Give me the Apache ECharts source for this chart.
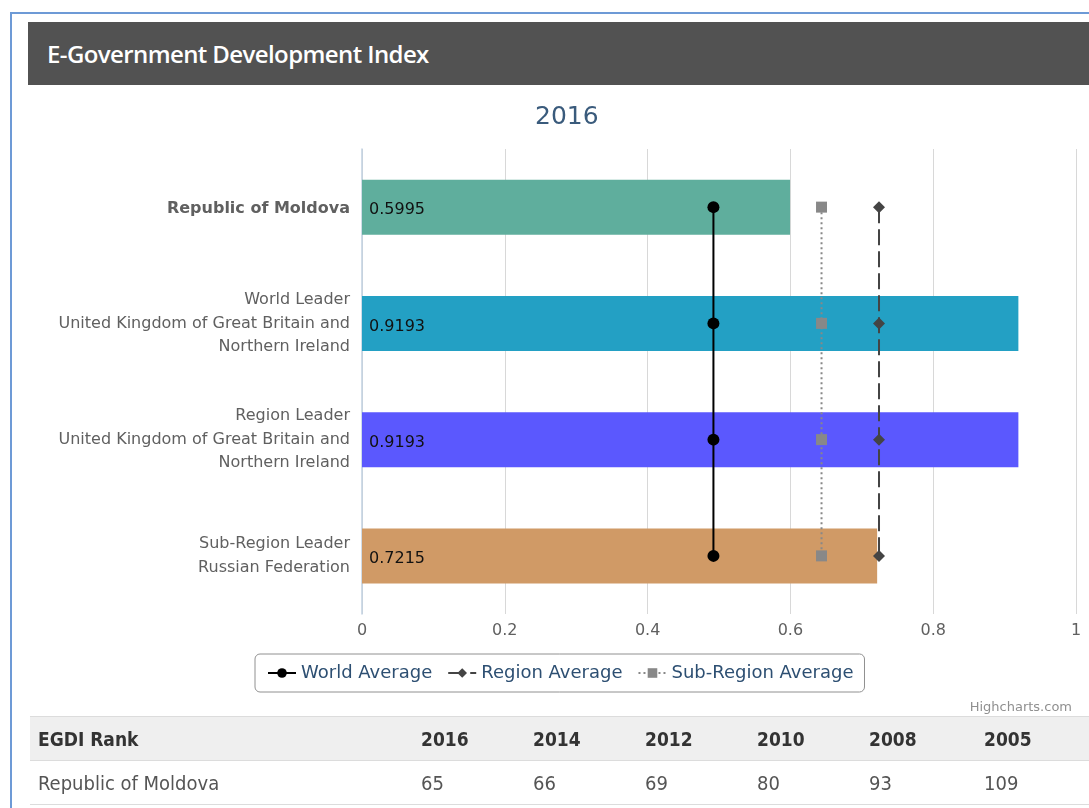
<!DOCTYPE html>
<html>
<head>
<meta charset="utf-8">
<script src="https://cdn.jsdelivr.net/npm/echarts@6/dist/echarts.min.js"></script>
<style>
  html, body { margin: 0; padding: 0; background: #fff; }
  body { width: 1089px; height: 808px; position: relative; overflow: hidden; }
  .frame { position: absolute; left: 10px; top: 12px; width: 1100px; height: 820px;
           border-left: 2px solid #6d9ad6; border-top: 2px solid #6d9ad6; }
  .head { position: absolute; left: 28px; top: 22px; width: 1080px; height: 63px; background: #525252;
          color: #fff; font-family: "Open Sans", sans-serif; font-weight: 600; font-size: 24px;
          letter-spacing: -0.6px; line-height: 63px; padding-left: 19px; box-sizing: border-box; }
  #chart { position: absolute; left: 0; top: 0; width: 1089px; height: 808px; }
  table { position: absolute; left: 30px; top: 716px; width: 1080px; border-collapse: collapse; table-layout: fixed;
          font-family: "DejaVu Sans Condensed", sans-serif; font-size: 19px; }
  td, th { text-align: left; padding: 0 0 0 8px; height: 43px; border-top: 1px solid #dcdcdc; border-bottom: 1px solid #dcdcdc;
           white-space: nowrap; }
  th { background: #efefef; color: #333; font-weight: bold; }
  td { color: #555; font-size: 20px; }
</style>
</head>
<body>
<div class="frame"></div>
<div class="head">E-Government Development Index</div>
<div id="chart"></div>
<table id="rank"></table>
<script>
// chart data
const categories = [
    'Republic of Moldova',
    'World Leader\nUnited Kingdom of Great Britain and\nNorthern Ireland',
    'Region Leader\nUnited Kingdom of Great Britain and\nNorthern Ireland',
    'Sub-Region Leader\nRussian Federation'
];
const egdi = [0.5995, 0.9193, 0.9193, 0.7215];
const barColors = ['#5fae9d', '#23a0c4', '#5b58fe', '#d09a66'];
const worldAverage = [0.4922, 0.4922, 0.4922, 0.4922];
const regionAverage = [0.7241, 0.7241, 0.7241, 0.7241];
const subRegionAverage = [0.6436, 0.6436, 0.6436, 0.6436];

// rank table
const rankYears = ['2016', '2014', '2012', '2010', '2008', '2005'];
const rankCountry = 'Republic of Moldova';
const rankValues = [65, 66, 69, 80, 93, 109];

const colW = [383, 112, 112, 112, 112, 115, 134]; // column widths
const tbl = document.getElementById('rank');
const cg = document.createElement('colgroup');
colW.forEach(w => {
    const c = document.createElement('col');
    c.style.width = w + 'px';
    cg.appendChild(c);
});
tbl.appendChild(cg);
function makeRow(tag, first, vals) {
    const tr = document.createElement('tr');
    [first].concat(vals).forEach(v => {
        const c = document.createElement(tag);
        c.textContent = v;
        tr.appendChild(c);
    });
    tbl.appendChild(tr);
}
makeRow('th', 'EGDI Rank', rankYears);
makeRow('td', rankCountry, rankValues);

const font = 'DejaVu Sans, sans-serif';
const chart = echarts.init(document.getElementById('chart'));

function avgSeries(name, vals, color, type, symbol, size) {
    return {
        name: name,
        type: 'line',
        data: vals.map((v, i) => [v, i]),
        symbol: symbol,
        symbolSize: size,
        itemStyle: { color: color },
        lineStyle: { color: color, width: 2, type: type },
        z: 5,
        animation: false
    };
}

const option = {
    animation: false,
    textStyle: { fontFamily: font },
    title: [{
        text: '2016',
        left: 530,
        top: 100,
        textStyle: { fontFamily: font, fontSize: 25, fontWeight: 'normal', color: '#3a5b7c' }
    }, {
        text: 'Highcharts.com',
        right: 12,
        top: 696,
        textStyle: { fontFamily: font, fontSize: 13, fontWeight: 'normal', color: '#909090' }
    }],
    legend: {
        data: ['World Average', 'Region Average', 'Sub-Region Average'],
        left: 255,
        top: 654,
        padding: [10, 11, 10, 12],
        itemGap: 15,
        itemWidth: 28,
        itemHeight: 12,
        borderColor: '#909090',
        borderWidth: 1,
        borderRadius: 5,
        textStyle: { fontFamily: font, fontSize: 18, color: '#2d4f72' }
    },
    grid: { left: 362, right: 13, top: 149, bottom: 194, containLabel: false },
    xAxis: {
        type: 'value',
        min: 0,
        max: 1,
        interval: 0.2,
        axisLine: { show: false },
        axisTick: { show: false },
        axisLabel: { color: '#606060', fontSize: 16, margin: 9, fontFamily: font },
        splitLine: { lineStyle: { color: '#d8d8d8', width: 1 } }
    },
    yAxis: {
        type: 'category',
        inverse: true,
        data: categories,
        axisLine: { lineStyle: { color: '#c0d0e0', width: 1.5 } },
        axisTick: { length: 7, lineStyle: { color: '#c0d0e0' } },
        axisLabel: {
            color: '#606060',
            fontSize: 16,
            lineHeight: 23.5,
            margin: 12,
            fontFamily: font,
            formatter: (v, i) => i === 0 ? '{b|' + v + '}' : v,
            rich: { b: { fontWeight: 'bold', fontSize: 16, color: '#606060', fontFamily: font, padding: [3, 0, 0, 0] } }
        }
    },
    series: [{
        type: 'bar',
        barWidth: 55,
        data: egdi.map((v, i) => ({ value: v, itemStyle: { color: barColors[i] } })),
        label: {
            show: true,
            position: 'insideLeft',
            distance: 7,
            offset: [0, 3],
            color: '#111',
            fontSize: 16,
            fontFamily: font
        },
        z: 2
    },
        avgSeries('World Average', worldAverage, '#000000', 'solid', 'circle', 12),
        avgSeries('Region Average', regionAverage, '#444444', [16, 6], 'diamond', 12),
        avgSeries('Sub-Region Average', subRegionAverage, '#888888', [2, 3], 'rect', 11)
    ]
};
chart.setOption(option);
</script>
</body>
</html>
